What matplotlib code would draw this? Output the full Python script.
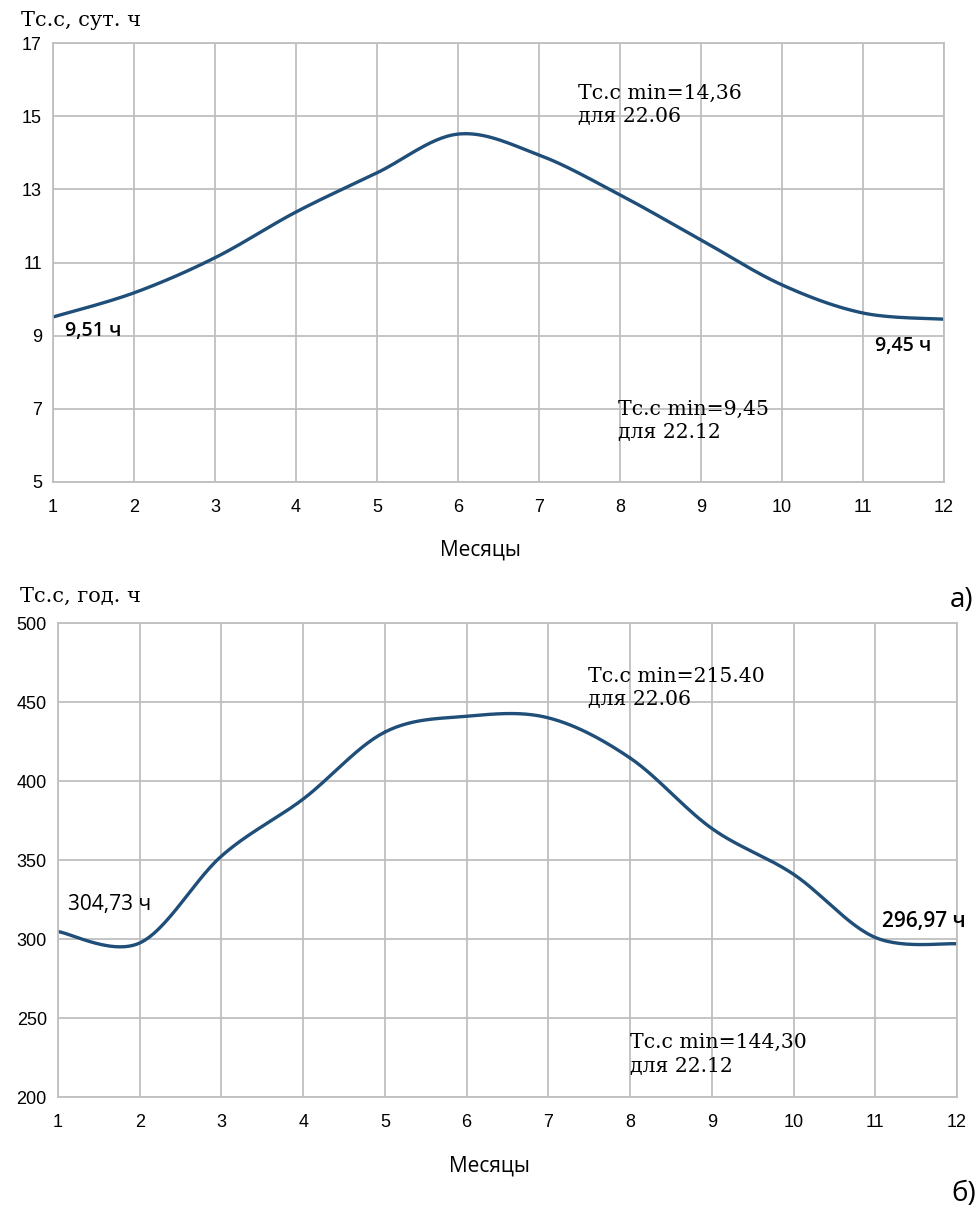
import matplotlib.pyplot as plt
import numpy as np

months = list(range(1, 13))
# daily hours (top) and monthly hours (bottom)
day_hours = [9.51, 10.17, 11.13, 12.38, 13.45, 14.51, 13.94, 12.85, 11.62, 10.39, 9.62, 9.45]
month_hours = [304.73, 297.5, 352.5, 388.6, 431.0, 441.0, 440.0, 414.6, 370.0, 341.0, 301.0, 296.97]

LINE = '#1f4e79'
GRID = '#bfbfbf'
SERIF = 'DejaVu Serif'
SANS = 'Liberation Sans'
LABEL = 'Open Sans'


def smooth(x, y, n=30):
    # Catmull-Rom curve through the points, like a spreadsheet "smoothed line"
    x = np.asarray(x, float)
    y = np.asarray(y, float)
    px = np.concatenate([[x[0]], x, [x[-1]]])
    py = np.concatenate([[y[0]], y, [y[-1]]])
    xs, ys = [], []
    t = np.linspace(0, 1, n)
    for i in range(1, len(px) - 2):
        p0, p1, p2, p3 = py[i - 1], py[i], py[i + 1], py[i + 2]
        q0, q1, q2, q3 = px[i - 1], px[i], px[i + 1], px[i + 2]
        for a, b, c, d, out in ((q0, q1, q2, q3, xs), (p0, p1, p2, p3, ys)):
            out.extend(0.5 * ((2 * b) + (-a + c) * t + (2 * a - 5 * b + 4 * c - d) * t ** 2
                              + (-a + 3 * b - 3 * c + d) * t ** 3))
    return np.array(xs), np.array(ys)


def style(ax, ylim, yticks, label_y):
    ax.set_xlim(1, 12)
    ax.set_ylim(*ylim)
    ax.set_xticks(months)
    ax.set_yticks(yticks)
    ax.grid(True, color=GRID, lw=1.3)
    ax.tick_params(length=0, labelsize=13)
    ax.tick_params(axis='x', pad=12)
    ax.tick_params(axis='y', pad=8)
    for lab in ax.get_xticklabels() + ax.get_yticklabels():
        lab.set_fontfamily(SANS)
    for s in ax.spines.values():
        s.set_color(GRID)
        s.set_linewidth(1.3)
    ax.set_xlabel('Месяцы', fontsize=15, family=LABEL)
    ax.xaxis.set_label_coords(0.48, label_y)


fig = plt.figure(figsize=(9.76, 12.15), dpi=100)

# а) daily duration
ax1 = fig.add_axes([0.0543, 0.6033, 0.9127, 0.3613])
style(ax1, (5, 17), range(5, 18, 2), -0.13)
sx, sy = smooth(months, day_hours)
ax1.plot(sx, sy, color=LINE, lw=2.4)
ax1.text(1.15, day_hours[0] - 0.1, '9,51 ч', fontsize=14, family=LABEL,
         fontweight='semibold', va='top')
ax1.text(11.15, day_hours[-1] - 0.45, '9,45 ч', fontsize=14, family=LABEL,
         fontweight='semibold', va='top')
ax1.text(7.48, 15.3, 'Тс.с min=14,36\nдля 22.06', fontsize=14.7, family=SERIF,
         linespacing=1.3, va='center')
ax1.text(7.98, 6.67, 'Тс.с min=9,45\nдля 22.12', fontsize=14.7, family=SERIF,
         linespacing=1.3, va='center')
fig.text(0.022, 0.983, 'Тс.с, сут. ч', fontsize=15, family=SERIF, va='center')
fig.text(0.997, 0.506, 'а)', fontsize=20, family=LABEL, ha='right', va='center')

# б) monthly duration
ax2 = fig.add_axes([0.0594, 0.0971, 0.9211, 0.3901])
style(ax2, (200, 500), range(200, 501, 50), -0.124)
sx, sy = smooth(months, month_hours)
ax2.plot(sx, sy, color=LINE, lw=2.4)
ax2.text(1.12, month_hours[0] + 17, '304,73 ч', fontsize=15, family=LABEL,
         va='center')
ax2.text(11.08, month_hours[-1] + 14, '296,97 ч', fontsize=15, family=LABEL,
         fontweight='semibold', va='center', clip_on=False)
ax2.text(7.49, 459, 'Тс.с min=215.40\nдля 22.06', fontsize=14.7, family=SERIF,
         linespacing=1.3, va='center')
ax2.text(8.0, 227, 'Тс.с min=144,30\nдля 22.12', fontsize=14.7, family=SERIF,
         linespacing=1.3, va='center')
fig.text(0.02, 0.509, 'Тс.с, год. ч', fontsize=15, family=SERIF, va='center')
fig.text(1.0, 0.017, 'б)', fontsize=20, family=LABEL, ha='right', va='center')

fig.savefig('out.png', dpi=100)
